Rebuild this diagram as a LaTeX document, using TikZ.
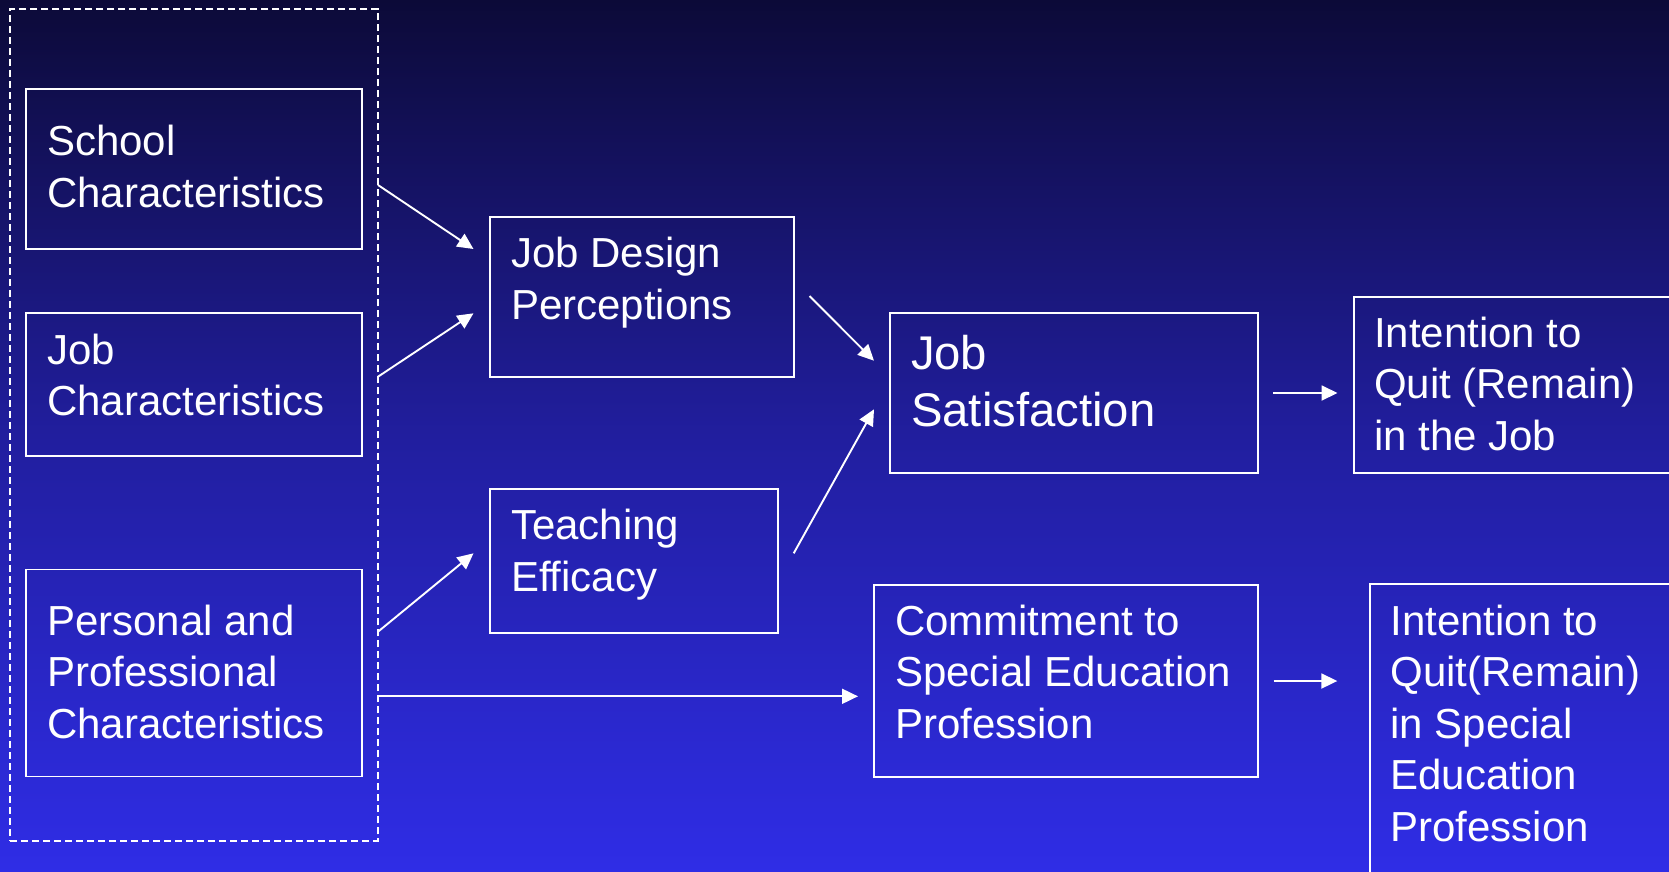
\documentclass[tikz,border=0pt]{standalone}
\usepackage{fontspec}
\setmainfont{Liberation Sans}
\usetikzlibrary{arrows.meta,calc}
\definecolor{bgtop}{RGB}{12,10,56}
\definecolor{bgmid}{RGB}{33,30,158}
\definecolor{bgbot}{RGB}{47,45,230}
\begin{document}
\begin{tikzpicture}[x=1pt,y=-1pt,
  box/.style={draw=white, line width=1.8pt, rectangle, inner sep=0pt, outer sep=0pt, anchor=north west},
  grpbox/.style={draw=white, line width=1.8pt, dash pattern=on 7pt off 4pt, rectangle, inner sep=0pt, outer sep=0pt, anchor=north west},
  lbl/.style={text=white, anchor=base west, align=left, inner sep=0pt, outer sep=0pt, font=\fontsize{42}{51.4}\selectfont},
  biglbl/.style={lbl, font=\fontsize{47.3}{57.4}\selectfont},
  arr/.style={draw=white, line width=1.9pt, -{Triangle[length=16pt,width=15pt]}}]
\path[use as bounding box, clip] (0,0) rectangle (1669,871);
\shade[top color=bgtop, bottom color=bgbot, middle color=bgmid] (0,0) rectangle (1669,871);

% dashed group
\node[grpbox, minimum width=367.7pt, minimum height=831.7pt] (grp) at (10.3,9) {};

% boxes
\node[box, minimum width=336pt, minimum height=160pt] (school) at (26,89) {};
\node[box, minimum width=336pt, minimum height=143pt] (jobc) at (26,313.3) {};
\node[box, minimum width=336pt, minimum height=207pt] (pers) at (26,569.5) {};
\node[box, minimum width=304pt, minimum height=160pt] (jdp) at (490,217) {};
\node[box, minimum width=288pt, minimum height=144pt] (te) at (490,489) {};
\node[box, minimum width=368pt, minimum height=160pt] (js) at (890,313) {};
\node[box, minimum width=340pt, minimum height=176pt] (iq1) at (1354,297) {};
\node[box, minimum width=384pt, minimum height=192pt] (comm) at (874,585) {};
\node[box, minimum width=340pt, minimum height=320pt] (iq2) at (1370,584.3) {};

% labels (anchored at the baseline of the last line)
\node[lbl] (school-t) at ($(school.north west)+(21,118.3)$) {School\\Characteristics};
\node[lbl] (jobc-t) at ($(jobc.north west)+(21,102.4)$) {Job\\Characteristics};
\node[lbl] (pers-t) at ($(pers.north west)+(21,168.8)$) {Personal and\\Professional\\Characteristics};
\node[lbl] (jdp-t) at ($(jdp.north west)+(21,102.3)$) {Job Design\\Perceptions};
\node[lbl] (te-t) at ($(te.north west)+(21,102)$) {Teaching\\Efficacy};
\node[biglbl] (js-t) at ($(js.north west)+(21,113.7)$) {Job\\Satisfaction};
\node[lbl] (iq1-t) at ($(iq1.north west)+(20,153)$) {Intention to\\Quit (Remain)\\in the Job};
\node[lbl] (comm-t) at ($(comm.north west)+(21,153.3)$) {Commitment to\\Special Education\\Profession};
\node[lbl] (iq2-t) at ($(iq2.north west)+(20.5,256.7)$) {Intention to\\Quit(Remain)\\in Special\\Education\\Profession};

% arrow end points
\coordinate (s1) at ($(grp.north east)+(0,176)$);
\coordinate (e1) at ($(jdp.north west)+(-16.5,32)$);
\coordinate (s2) at ($(grp.north east)+(0,367.7)$);
\coordinate (e2) at ($(jdp.north west)+(-16.5,96.3)$);
\coordinate (s3) at ($(grp.north east)+(0,622.7)$);
\coordinate (e3) at ($(te.north west)+(-16.5,64.3)$);
\coordinate (s4) at ($(grp.north east)+(0,687.3)$);
\coordinate (e4) at ($(comm.north west)+(-16,111.3)$);
\coordinate (s5) at ($(jdp.north east)+(15.5,79)$);
\coordinate (e5) at ($(js.north west)+(-16,47.7)$);
\coordinate (s6) at ($(te.north east)+(15.7,64.3)$);
\coordinate (e6) at ($(js.north west)+(-16,96.3)$);
\coordinate (s7) at ($(js.north east)+(15,80)$);
\coordinate (e7) at ($(iq1.north west)+(-16.5,96)$);
\coordinate (s8) at ($(comm.north east)+(15.5,96)$);
\coordinate (e8) at ($(iq2.north west)+(-32.7,96.7)$);

\draw[arr] (s1) -- (e1);
\draw[arr] (s2) -- (e2);
\draw[arr] (s3) -- (e3);
\draw[arr] (s4) -- (e4);
\draw[arr] (s5) -- (e5);
\draw[arr] (s6) -- (e6);
\draw[arr] (s7) -- (e7);
\draw[arr] (s8) -- (e8);
\end{tikzpicture}
\end{document}
